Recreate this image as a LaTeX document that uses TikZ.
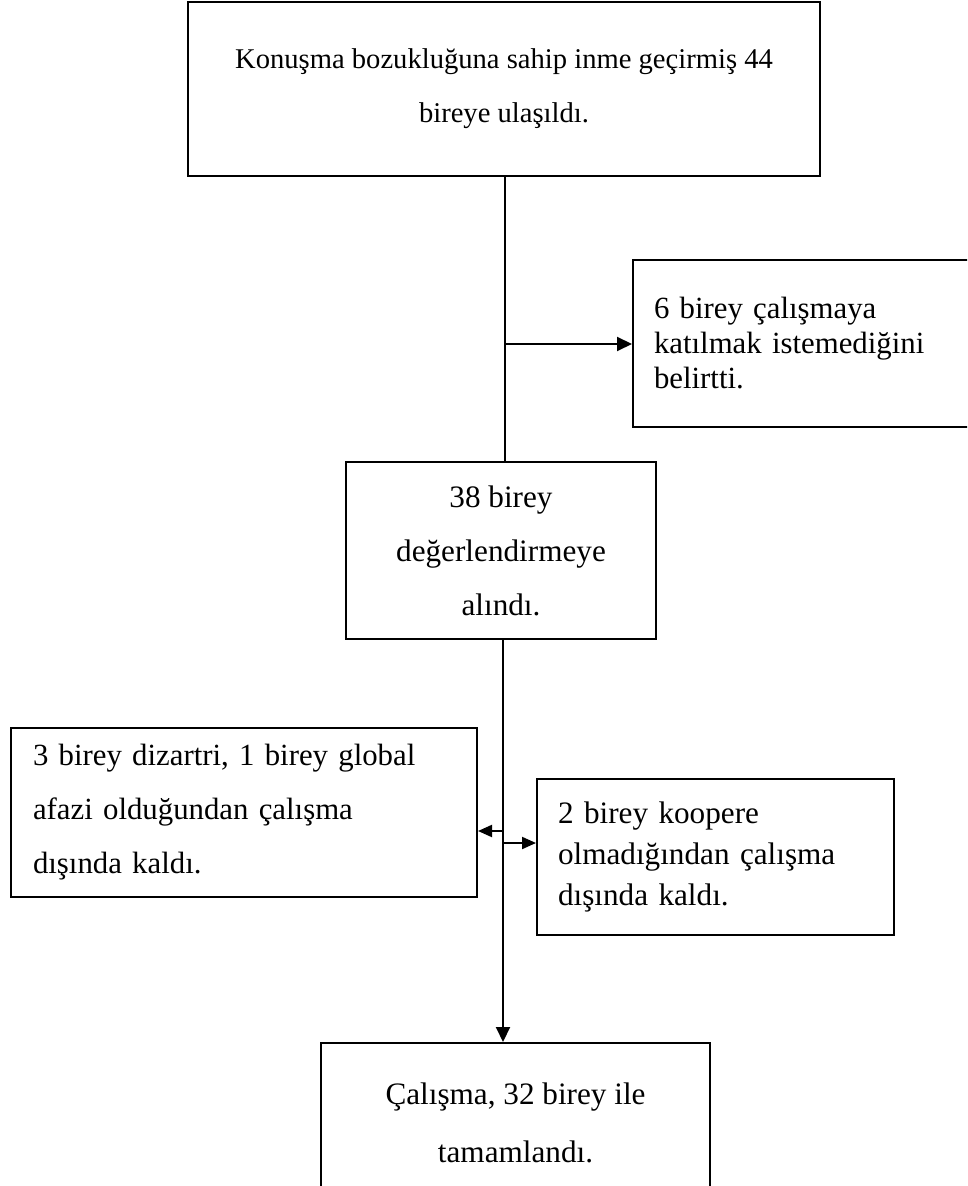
\documentclass[tikz,border=0pt]{standalone}
\usepackage{fontspec}
\setmainfont{Liberation Serif}
\usetikzlibrary{arrows.meta}

\begin{document}
\begin{tikzpicture}[x=0.5pt,y=-0.5pt,>={Triangle[length=7.5pt,width=7pt]},line width=1pt,
    box/.style={draw,line width=1pt,inner ysep=0pt,font=\fontsize{15.6}{27}\selectfont},
    leftbox/.style={box,anchor=north west,align=left},
    small tip/.style={-{Triangle[length=7pt,width=6pt]}}]
      \useasboundingbox (0,0) rectangle (967,1186);
      \clip (0,0) rectangle (967,1186);

      \node[box,minimum width=316pt,minimum height=87pt,align=center,
        font=\fontsize{14.3}{27}\selectfont] (reach) at (504,89)
        {Konuşma bozukluğuna sahip inme geçirmiş 44\\bireye ulaşıldı.};
      \node[leftbox,minimum width=180pt,minimum height=83.5pt,inner xsep=10.5pt,
        text width=159pt,font=\fontsize{15.4}{17.5}\selectfont] (refused) at (632,259)
        {6 birey çalışmaya\\katılmak istemediğini\\belirtti.};
      \node[box,minimum width=155pt,minimum height=88.5pt,align=center] (assessed) at (501,550.5)
        {38 birey\\değerlendirmeye\\alındı.};
      \node[leftbox,minimum width=233pt,minimum height=84.5pt,inner xsep=11pt,
        text width=211pt,font=\fontsize{15.4}{27}\selectfont] (dysarthria) at (10,727)
        {3 birey dizartri, 1 birey global\\afazi olduğundan çalışma\\dışında kaldı.};
      \node[leftbox,minimum width=178.5pt,minimum height=78pt,inner xsep=10.5pt,
        text width=157.5pt,font=\fontsize{15.6}{20.5}\selectfont] (noncoop) at (536,778)
        {2 birey koopere\\olmadığından çalışma\\dışında kaldı.};
      \node[box,anchor=north,minimum width=194.5pt,minimum height=80pt,align=center,
        font=\fontsize{15.6}{29}\selectfont] (done) at (515.5,1042)
        {Çalışma, 32 birey ile\\tamamlandı.};

      \coordinate (split1) at (505,344);
      \coordinate (split2) at (503,831);
      \coordinate (split3) at (503,843);
      \coordinate (stem) at (503,803);

      \path
        (reach.south -| split1)
          edge (assessed.north -| split1)
        (split1)
          edge[->] (split1 -| refused.west)
        (assessed.south -| split2)
          edge (split2)
        (split2)
          edge[small tip] (split2 -| dysarthria.east)
        (stem)
          edge[->] (done.north -| stem)
        (split3)
          edge[small tip] (split3 -| noncoop.west)
      ;

    \end{tikzpicture}
\end{document}
